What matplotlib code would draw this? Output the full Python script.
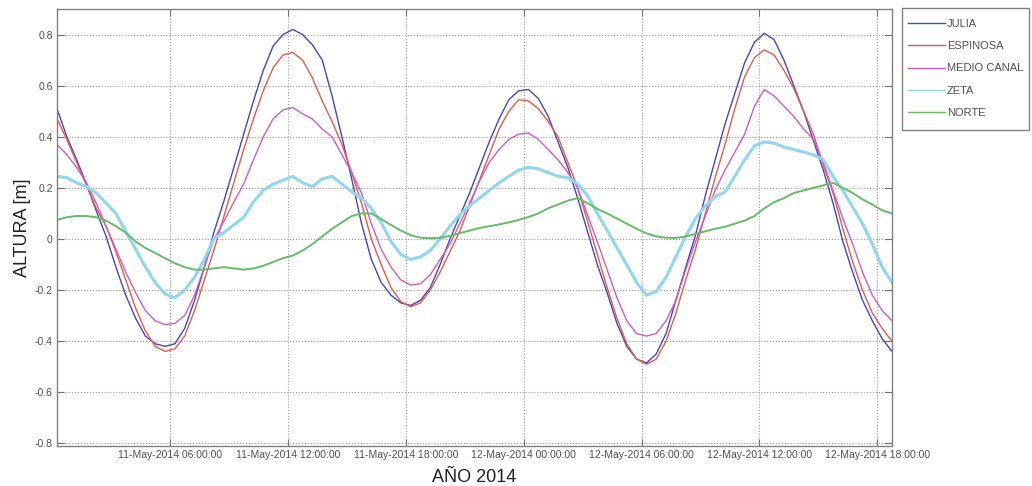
import matplotlib
matplotlib.use("Agg")
import matplotlib.pyplot as plt
import matplotlib.dates as mdates
from matplotlib.patches import Rectangle
import numpy as np

plt.rcParams['font.family'] = ['Liberation Sans', 'DejaVu Sans']
plt.rcParams['axes.unicode_minus'] = False

# half-hour samples, 11-May-2014 00:15 -> 12-May-2014 18:45
t0 = np.datetime64('2014-05-11T00:15')
times = t0 + np.arange(86) * np.timedelta64(30, 'm')

julia = [0.51, 0.40, 0.31, 0.215, 0.11, 0.01, -0.11, -0.22, -0.31, -0.38,
         -0.41, -0.42, -0.41, -0.35, -0.24, -0.11, 0.03, 0.15, 0.28, 0.41,
         0.54, 0.66, 0.755, 0.80, 0.82, 0.80, 0.76, 0.70, 0.56, 0.40,
         0.235, 0.06, -0.08, -0.17, -0.22, -0.25, -0.26, -0.24, -0.19, -0.10,
         0.00, 0.09, 0.18, 0.28, 0.38, 0.47, 0.545, 0.58, 0.585, 0.55,
         0.48, 0.38, 0.28, 0.16, 0.03, -0.10, -0.21, -0.33, -0.42, -0.47,
         -0.485, -0.45, -0.37, -0.24, -0.11, 0.015, 0.17, 0.31, 0.45, 0.57,
         0.69, 0.77, 0.805, 0.78, 0.70, 0.60, 0.50, 0.385, 0.27, 0.14,
         -0.01, -0.13, -0.24, -0.32, -0.39, -0.44]

espinosa = [0.47, 0.39, 0.30, 0.21, 0.12, 0.05, -0.05, -0.16, -0.27, -0.36,
            -0.42, -0.44, -0.43, -0.38, -0.28, -0.16, -0.04, 0.09, 0.22, 0.35,
            0.47, 0.58, 0.67, 0.72, 0.73, 0.70, 0.63, 0.54, 0.46, 0.37,
            0.26, 0.14, 0.00, -0.10, -0.19, -0.245, -0.265, -0.25, -0.20, -0.13,
            -0.05, 0.03, 0.13, 0.23, 0.33, 0.43, 0.50, 0.545, 0.54, 0.51,
            0.46, 0.40, 0.30, 0.20, 0.07, -0.06, -0.19, -0.31, -0.41, -0.47,
            -0.49, -0.47, -0.40, -0.29, -0.16, -0.04, 0.10, 0.24, 0.37, 0.51,
            0.635, 0.71, 0.74, 0.72, 0.66, 0.59, 0.50, 0.41, 0.29, 0.18,
            0.04, -0.09, -0.20, -0.29, -0.35, -0.40]

medio_canal = [0.37, 0.33, 0.28, 0.22, 0.14, 0.05, -0.04, -0.13, -0.21, -0.28,
               -0.32, -0.335, -0.33, -0.30, -0.22, -0.11, 0.00, 0.07, 0.145, 0.215,
               0.31, 0.40, 0.47, 0.505, 0.515, 0.49, 0.47, 0.43, 0.40, 0.33,
               0.26, 0.18, 0.06, -0.04, -0.11, -0.16, -0.18, -0.175, -0.14, -0.08,
               -0.02, 0.06, 0.14, 0.225, 0.30, 0.35, 0.39, 0.41, 0.415, 0.39,
               0.35, 0.31, 0.26, 0.20, 0.095, -0.01, -0.12, -0.23, -0.32, -0.37,
               -0.38, -0.37, -0.32, -0.24, -0.12, -0.01, 0.09, 0.19, 0.27, 0.34,
               0.41, 0.52, 0.585, 0.56, 0.52, 0.48, 0.43, 0.39, 0.30, 0.19,
               0.08, -0.02, -0.13, -0.22, -0.28, -0.32]

zeta = [0.245, 0.24, 0.22, 0.205, 0.18, 0.14, 0.10, 0.03, -0.04, -0.11,
        -0.17, -0.215, -0.23, -0.20, -0.15, -0.08, 0.005, 0.025, 0.055, 0.085,
        0.145, 0.19, 0.215, 0.23, 0.245, 0.22, 0.205, 0.235, 0.245, 0.215,
        0.185, 0.16, 0.12, 0.065, -0.01, -0.06, -0.08, -0.07, -0.045, 0.00,
        0.05, 0.095, 0.13, 0.16, 0.19, 0.22, 0.245, 0.27, 0.28, 0.275,
        0.26, 0.245, 0.24, 0.215, 0.17, 0.10, 0.035, -0.035, -0.10, -0.17,
        -0.22, -0.205, -0.15, -0.07, 0.01, 0.08, 0.13, 0.165, 0.185, 0.245,
        0.31, 0.365, 0.38, 0.375, 0.36, 0.35, 0.34, 0.33, 0.31, 0.245,
        0.19, 0.125, 0.06, -0.02, -0.11, -0.17]

norte = [0.075, 0.085, 0.09, 0.09, 0.085, 0.072, 0.05, 0.025, -0.01, -0.035,
         -0.055, -0.075, -0.095, -0.11, -0.12, -0.12, -0.115, -0.11, -0.115, -0.12,
         -0.115, -0.105, -0.09, -0.075, -0.065, -0.045, -0.02, 0.01, 0.04, 0.065,
         0.09, 0.10, 0.10, 0.078, 0.055, 0.033, 0.015, 0.005, 0.003, 0.005,
         0.012, 0.023, 0.033, 0.043, 0.05, 0.057, 0.065, 0.075, 0.086, 0.10,
         0.12, 0.135, 0.15, 0.16, 0.14, 0.118, 0.10, 0.08, 0.06, 0.04,
         0.022, 0.01, 0.005, 0.004, 0.01, 0.02, 0.03, 0.04, 0.048, 0.06,
         0.072, 0.09, 0.12, 0.144, 0.16, 0.18, 0.19, 0.20, 0.21, 0.22,
         0.20, 0.18, 0.155, 0.135, 0.112, 0.10]

names = ['JULIA', 'ESPINOSA', 'MEDIO CANAL', 'ZETA', 'NORTE']
series = [julia, espinosa, medio_canal, zeta, norte]
colors = ['#4444c4', '#e65a45', '#cc5cc4', '#8fd6ee', '#66bb66']
widths = [1.0, 1.0, 1.0, 2.2, 1.4]

yticks = [-0.8, -0.6, -0.4, -0.2, 0, 0.2, 0.4, 0.6, 0.8]
ytick_labels = ['-0.8', '-0.6', '-0.4', '-0.2', '0', '0.2', '0.4', '0.6', '0.8']
xticks = np.datetime64('2014-05-11T06:00') + np.arange(7) * np.timedelta64(6, 'h')

fig = plt.figure(figsize=(10.32, 4.86), dpi=100)
ax = fig.add_axes([57 / 1032, 1 - 446 / 486, 835 / 1032, 437 / 486])

for name, vals, c, lw in zip(names, series, colors, widths):
    ax.plot(times, vals, color=c, lw=lw, label=name)

ax.set_xlim(times[0], times[-1])
ax.set_ylim(-0.81, 0.9)
ax.set_yticks(yticks)
ax.set_yticklabels(ytick_labels)
ax.set_xticks(xticks)
ax.xaxis.set_major_formatter(mdates.DateFormatter('%d-%b-%Y %H:%M:%S'))

ax.grid(True, linestyle=':', color='#9a9a9a', lw=0.8)
ax.tick_params(direction='in', top=True, right=True, length=5, width=0.8,
               colors='#707070', labelsize=7.5, labelcolor='#505050', pad=3)
for sp in ax.spines.values():
    sp.set_color('#808080')
    sp.set_linewidth(1.0)

ax.set_ylabel('ALTURA [m]', fontsize=13, color='#222222', labelpad=3)
ax.set_xlabel('AÑO 2014', fontsize=13, color='#222222', labelpad=6)

# legend box drawn as a figure patch, entries placed inside it
fig.patches.append(Rectangle((902 / 1032, 1 - 130 / 486), 127 / 1032, 122 / 486,
                             transform=fig.transFigure, facecolor='white',
                             edgecolor='#808080', lw=1.0, zorder=-1))
handles, labels = ax.get_legend_handles_labels()
leg = fig.legend(handles, labels, loc='upper left',
                 bbox_to_anchor=(908 / 1032, 1 - 19 / 486),
                 borderaxespad=0, frameon=False,
                 fontsize=8, handlelength=3.3, handletextpad=0.2,
                 labelspacing=1.1, borderpad=0)
for txt in leg.get_texts():
    txt.set_color('#505050')
for h in leg.get_lines():
    h.set_linewidth(1.0)

fig.savefig('out.png', dpi=100)
